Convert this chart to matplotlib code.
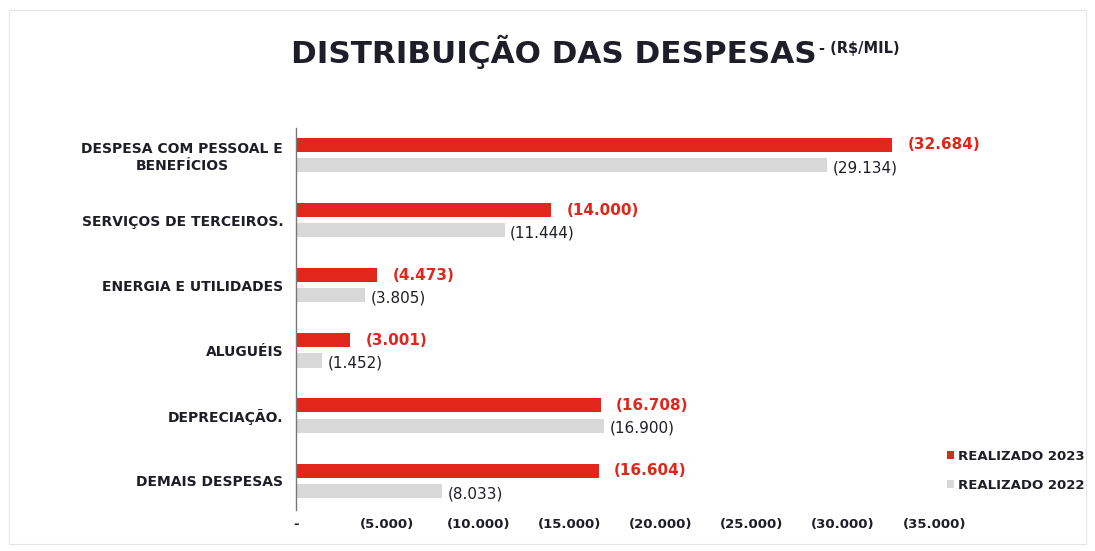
import matplotlib
matplotlib.use("Agg")
import matplotlib.pyplot as plt
from matplotlib.patches import Rectangle

plt.rcParams["font.family"] = ["DejaVu Sans"]

categories = [
    "DESPESA COM PESSOAL E\nBENEFÍCIOS",
    "SERVIÇOS DE TERCEIROS.",
    "ENERGIA E UTILIDADES",
    "ALUGUÉIS",
    "DEPRECIAÇÃO.",
    "DEMAIS DESPESAS",
]
realizado_2023 = [32684, 14000, 4473, 3001, 16708, 16604]
realizado_2022 = [29134, 11444, 3805, 1452, 16900, 8033]
tick_values = [0, 5000, 10000, 15000, 20000, 25000, 30000, 35000]
tick_labels = ["-", "(5.000)", "(10.000)", "(15.000)", "(20.000)", "(25.000)", "(30.000)", "(35.000)"]

RED = "#e1261c"
GRAY = "#d8d8d8"
TEXT = "#1e1e28"


def fmt(v):
    return "({:,})".format(v).replace(",", ".")


fig = plt.figure(figsize=(10.95, 5.51), dpi=100)
fig.patches.append(Rectangle((0.008, 0.012), 0.984, 0.97, transform=fig.transFigure,
                             fill=False, edgecolor="#e4e4e4", linewidth=0.8))

ax = fig.add_axes([0.270, 0.0744, 0.600, 0.694])
ypos = list(range(len(categories)))
h = 0.215
off = 0.155
bars23 = ax.barh([y - off for y in ypos], realizado_2023, height=h, color=RED, label="REALIZADO 2023")
bars22 = ax.barh([y + off for y in ypos], realizado_2022, height=h, color=GRAY, label="REALIZADO 2022")

for y, v in zip(ypos, realizado_2023):
    ax.annotate(fmt(v), (v, y - off), xytext=(11, 0), textcoords="offset points",
                color=RED, fontsize=11, fontweight="bold", va="center", ha="left")
for y, v in zip(ypos, realizado_2022):
    ax.annotate(fmt(v), (v, y + off), xytext=(4, -2), textcoords="offset points",
                color=TEXT, fontsize=11, va="center", ha="left")

ax.set_xlim(0, 36000)
ax.set_ylim(5.45, -0.42)
ax.set_yticks(ypos)
ax.set_yticklabels(categories, fontsize=10, fontweight="bold", color=TEXT, multialignment="center")
ax.set_xticks(tick_values)
ax.set_xticklabels(tick_labels, fontsize=9.5, fontweight="bold", color=TEXT)
ax.tick_params(axis="both", length=0)
ax.tick_params(axis="y", pad=9)
ax.tick_params(axis="x", pad=6)
for s in ["top", "right", "bottom"]:
    ax.spines[s].set_visible(False)
ax.spines["left"].set_color("#777777")
ax.spines["left"].set_linewidth(1.0)

ax.legend(handles=[bars23, bars22], loc="upper left", bbox_to_anchor=(0.854, 0.205),
          bbox_transform=fig.transFigure, frameon=False,
          prop={"weight": "bold", "size": 9.5}, handlelength=0.5, handleheight=0.5,
          handletextpad=0.3, labelspacing=1.2, labelcolor=TEXT)

t1 = fig.text(0.266, 0.885, "DISTRIBUIÇÃO DAS DESPESAS", fontsize=22.3, fontweight="bold",
              color=TEXT, ha="left", va="baseline")
fig.canvas.draw()
bb = t1.get_window_extent()
x_end = bb.x1 / fig.bbox.width
fig.text(x_end + 0.002, 0.903, "- (R$/MIL)", fontsize=10.5, fontweight="bold",
         color=TEXT, ha="left", va="baseline")

fig.savefig("out.png", dpi=100)
